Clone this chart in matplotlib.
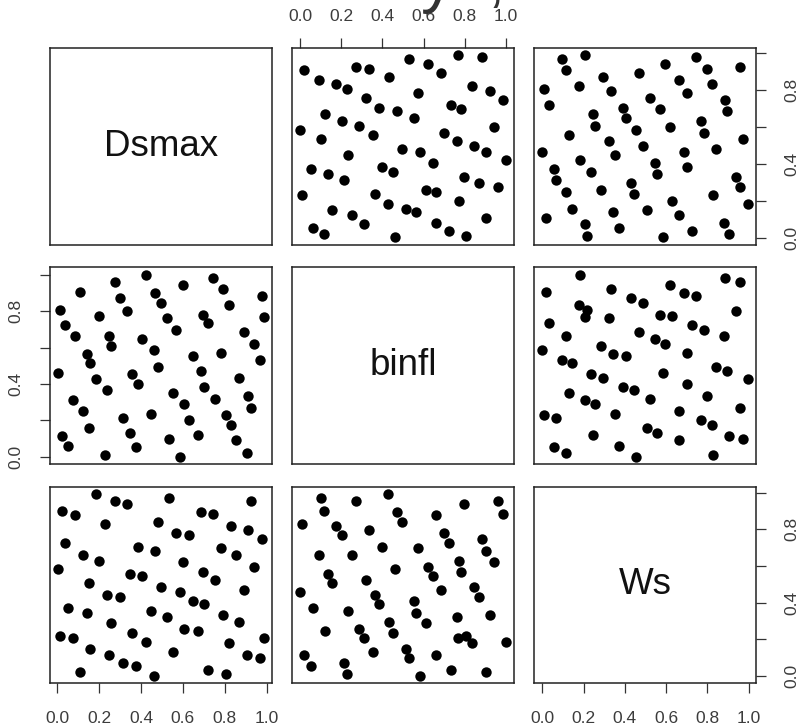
import matplotlib
matplotlib.use("Agg")
import matplotlib.pyplot as plt
import numpy as np

plt.rcParams['font.family'] = ['Liberation Sans', 'DejaVu Sans']

var_names = ["Dsmax", "binfl", "Ws"]

Dsmax = [0.005, 0.012, 0.025, 0.037, 0.053, 0.076, 0.084, 0.111, 0.125, 0.140,
         0.152, 0.156, 0.186, 0.199, 0.230, 0.238, 0.248, 0.258, 0.276, 0.300,
         0.315, 0.332, 0.347, 0.358, 0.375, 0.385, 0.407, 0.422, 0.448, 0.462,
         0.467, 0.480, 0.497, 0.525, 0.535, 0.555, 0.569, 0.585, 0.599, 0.607,
         0.631, 0.646, 0.671, 0.687, 0.694, 0.703, 0.719, 0.745, 0.755, 0.780,
         0.791, 0.806, 0.822, 0.831, 0.854, 0.867, 0.892, 0.908, 0.912, 0.925,
         0.939, 0.968, 0.979, 0.986]

binfl = [0.462, 0.808, 0.115, 0.723, 0.060, 0.312, 0.662, 0.905, 0.252, 0.562,
         0.157, 0.513, 0.425, 0.772, 0.009, 0.365, 0.662, 0.611, 0.960, 0.872,
         0.212, 0.799, 0.133, 0.453, 0.051, 0.398, 0.648, 1.000, 0.234, 0.584,
         0.902, 0.493, 0.843, 0.763, 0.100, 0.352, 0.699, 0.000, 0.945, 0.288,
         0.201, 0.553, 0.120, 0.471, 0.781, 0.385, 0.735, 0.985, 0.319, 0.571,
         0.922, 0.228, 0.836, 0.173, 0.091, 0.434, 0.684, 0.020, 0.334, 0.270,
         0.622, 0.531, 0.885, 0.768]

Ws = [0.584, 0.215, 0.903, 0.726, 0.370, 0.206, 0.881, 0.018, 0.662, 0.343,
      0.505, 0.146, 0.995, 0.630, 0.827, 0.443, 0.115, 0.286, 0.958, 0.432,
      0.069, 0.940, 0.557, 0.234, 0.055, 0.703, 0.544, 0.182, 0.352, 0.000,
      0.684, 0.843, 0.487, 0.323, 0.973, 0.131, 0.781, 0.456, 0.620, 0.255,
      0.770, 0.407, 0.246, 0.894, 0.569, 0.392, 0.033, 0.885, 0.524, 0.699,
      0.332, 0.009, 0.179, 0.821, 0.661, 0.292, 0.469, 0.113, 0.799, 0.958,
      0.593, 0.095, 0.745, 0.206]

x_tick_values = [0.0, 0.2, 0.4, 0.6, 0.8, 1.0]
x_tick_labels = ["0.0", "0.2", "0.4", "0.6", "0.8", "1.0"]
y_tick_labels = ["0.0", "", "0.4", "", "0.8", ""]

data = [np.array(Dsmax), np.array(binfl), np.array(Ws)]


def rlim(v):
    lo, hi = v.min(), v.max()
    r = hi - lo
    return lo - 0.04 * r, hi + 0.04 * r


lims = [rlim(v) for v in data]

W, H = 798, 727
fig = plt.figure(figsize=(W / 100, H / 100), dpi=100)

col_left = [50, 292, 534]
pw = 222
row_top = [48, 267.5, 486.5]
ph = 196.5

tick_col = '#333333'
lab_col = '#3c3c3c'
fs_tick = 12.5

axes = [[None] * 3 for _ in range(3)]
for i in range(3):
    for j in range(3):
        ax = fig.add_axes([col_left[j] / W, 1 - (row_top[i] + ph) / H, pw / W, ph / H])
        axes[i][j] = ax
        ax.set_xlim(*lims[j])
        ax.set_ylim(*lims[i])
        for s in ax.spines.values():
            s.set_linewidth(1.1)
            s.set_color('#222222')
        ax.set_xticks(x_tick_values)
        ax.set_yticks(x_tick_values)
        ax.tick_params(axis='both', which='both', bottom=False, top=False, left=False, right=False,
                       labelbottom=False, labeltop=False, labelleft=False, labelright=False,
                       length=7.2, width=0.9, color=tick_col, labelsize=fs_tick, labelcolor=lab_col)
        if i == j:
            ax.text(0.5, 0.5, var_names[i], transform=ax.transAxes, ha='center', va='center',
                    fontsize=26.5, color='#111111')
        else:
            ax.scatter(data[j], data[i], s=56, c='black', marker='o', linewidths=0)

# R pairs style alternating axes
ax = axes[0][1]
ax.tick_params(axis='x', top=True, labeltop=True, pad=10)
ax.set_xticklabels(x_tick_labels)

for j in (0, 2):
    ax = axes[2][j]
    ax.tick_params(axis='x', bottom=True, labelbottom=True, pad=13)
    ax.set_xticklabels(x_tick_labels)

ax = axes[1][0]
ax.tick_params(axis='y', left=True, labelleft=True, pad=12)
ax.set_yticklabels(y_tick_labels, rotation=90, va='center')

for i in (0, 2):
    ax = axes[i][2]
    ax.tick_params(axis='y', right=True, labelright=True, pad=13)
    ax.set_yticklabels(y_tick_labels, rotation=90, va='center')

# partially visible heading above the figure (only descenders show)
fig.text(421 / W, 1.0, "y", fontsize=48, va='baseline', ha='left', color='#333333')
fig.text(488 / W, 1.0, ",", fontsize=44, va='baseline', ha='left', color='#333333')

fig.savefig("out.png", dpi=100)
